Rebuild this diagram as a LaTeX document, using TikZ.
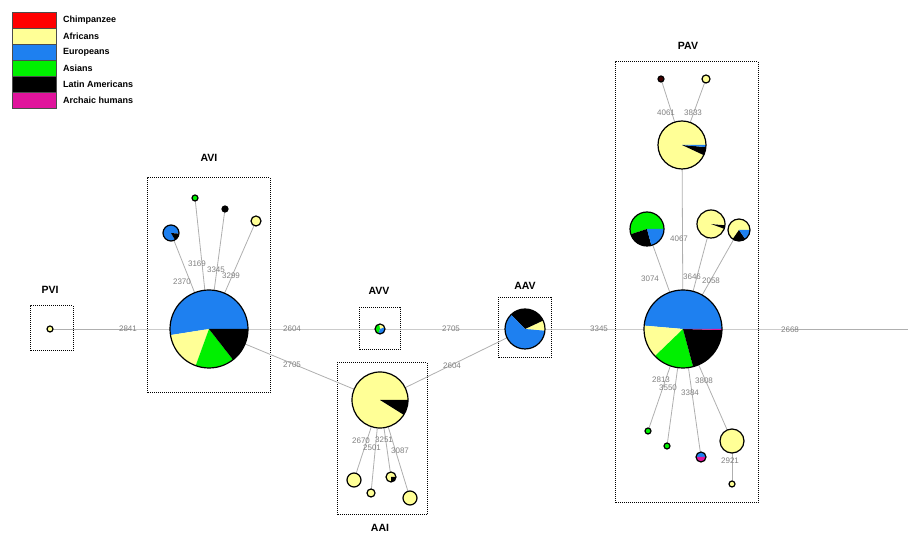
\documentclass[tikz,border=0pt]{standalone}
\usepackage{fontspec}
\setmainfont{Liberation Sans}
\usepackage{tikz}

\definecolor{chimp}{RGB}{255,0,0}
\definecolor{afr}{RGB}{255,255,150}
\definecolor{eur}{RGB}{30,128,240}
\definecolor{asi}{RGB}{0,240,0}
\definecolor{lat}{RGB}{0,0,0}
\definecolor{arc}{RGB}{224,20,156}
\definecolor{edgegray}{RGB}{175,175,175}

\newcommand{\pieslice}[5]{\fill[#5] (#1) -- ++(#3:#2) arc[start angle=#3, end angle=#4, radius=#2] -- cycle;}
\newcommand{\pierim}[2]{\draw[rim] (#1) circle[radius=#2];}
\newcommand{\pieball}[3]{\filldraw[rim, fill=#3] (#1) circle[radius=#2];}

\begin{document}
\begin{tikzpicture}[x=1pt,y=1pt,
    edge/.style={draw=edgegray, line width=0.8pt},
    rim/.style={draw=black, line width=1.2pt},
    count/.style={text=black!50, font=\fontsize{8}{9}\selectfont, inner sep=0pt},
    group/.style={draw, densely dotted, line width=1pt},
    grouplabel/.style={font=\bfseries\fontsize{10.5}{12}\selectfont},
    legendtext/.style={anchor=west, font=\bfseries\fontsize{9}{10}\selectfont, inner sep=0pt}]
\useasboundingbox (0,0) rectangle (908,538);

% legend
\foreach \col/\txt [count=\i] in {chimp/Chimpanzee, afr/Africans, eur/Europeans, asi/Asians, lat/Latin Americans, arc/Archaic humans} {
    \filldraw[fill=\col, draw=black!70, line width=0.5pt] (12,542-16*\i) rectangle (56,526-16*\i);
    \node[legendtext] at (63,534-16*\i) {\txt};
}

% groups
\draw[group] (30,187) rectangle (73,232);
\node[grouplabel] at (50,248) {PVI};
\draw[group] (147,145) rectangle (270,360);
\node[grouplabel] at (209,380) {AVI};
\draw[group] (359,188) rectangle (400,230);
\node[grouplabel] at (379,247) {AVV};
\draw[group] (498,180) rectangle (551,240);
\node[grouplabel] at (525,252) {AAV};
\draw[group] (337,23) rectangle (427,175);
\node[grouplabel] at (380,10) {AAI};
\draw[group] (615,35) rectangle (758,476);
\node[grouplabel] at (688,492) {PAV};

% haplotype centres
\coordinate (pvi) at (50,209);
\coordinate (avi) at (209,209);
\coordinate (avv) at (380,209);
\coordinate (aav) at (525,209);
\coordinate (aai) at (380,138);
\coordinate (pav) at (683,209);
\coordinate (tail) at (908,209);
\coordinate (avi1) at (171,305);
\coordinate (avi2) at (195,340);
\coordinate (avi3) at (225,329);
\coordinate (avi4) at (256,317);
\coordinate (aai1) at (354,58);
\coordinate (aai2) at (371,45);
\coordinate (aai3) at (391,61);
\coordinate (aai4) at (410,40);
\coordinate (pav1) at (682,393);
\coordinate (pav1a) at (661,459);
\coordinate (pav1b) at (706,459);
\coordinate (pav2) at (647,309);
\coordinate (pav3) at (711,314);
\coordinate (pav4) at (739,308);
\coordinate (pav5) at (648,107);
\coordinate (pav6) at (667,92);
\coordinate (pav7) at (701,81);
\coordinate (pav8) at (732,97);
\coordinate (pav8a) at (732,54);

% links
\draw[edge] (pvi) -- (avi) -- (avv) -- (aav) -- (pav) -- (tail);
\draw[edge] (avi) -- (aai) -- (aav);
\foreach \s in {avi1,avi2,avi3,avi4} \draw[edge] (avi) -- (\s);
\foreach \s in {aai1,aai2,aai3,aai4} \draw[edge] (aai) -- (\s);
\foreach \s in {pav1,pav2,pav3,pav4,pav5,pav6,pav7,pav8} \draw[edge] (pav) -- (\s);
\draw[edge] (pav1a) -- (pav1) -- (pav1b);
\draw[edge] (pav8) -- (pav8a);

% mutation positions
\node[count] at (128,209) {2841};
\node[count] at (292,209) {2604};
\node[count] at (451,209) {2705};
\node[count] at (599,209) {3345};
\node[count] at (790,208) {2668};
\node[count] at (292,173) {2705};
\node[count] at (452,172) {2604};
\node[count] at (182,256) {2370};
\node[count] at (197,274) {3169};
\node[count] at (216,268) {3345};
\node[count] at (231,262) {3299};
\node[count] at (361,97) {2670};
\node[count] at (372,90) {2501};
\node[count] at (384,98) {3251};
\node[count] at (400,87) {3087};
\node[count] at (679,299) {4067};
\node[count] at (666,425) {4061};
\node[count] at (693,425) {3833};
\node[count] at (650,259) {3074};
\node[count] at (692,261) {3646};
\node[count] at (711,257) {2058};
\node[count] at (661,158) {2813};
\node[count] at (668,150) {3550};
\node[count] at (690,145) {3384};
\node[count] at (704,157) {3808};
\node[count] at (730,77) {2921};

% pies
\pieball{pvi}{3pt}{afr}

\pieslice{avi}{39pt}{0}{189}{eur}
\pieslice{avi}{39pt}{189}{250}{afr}
\pieslice{avi}{39pt}{250}{308}{asi}
\pieslice{avi}{39pt}{308}{360}{lat}
\pierim{avi}{39pt}
\pieslice{avi1}{8pt}{-5}{300}{eur}
\pieslice{avi1}{8pt}{300}{355}{lat}
\pierim{avi1}{8pt}
\pieball{avi2}{3pt}{asi}
\pieball{avi3}{3pt}{lat}
\pieball{avi4}{5pt}{afr}

\pieslice{avv}{5pt}{20}{100}{afr}
\pieslice{avv}{5pt}{100}{250}{asi}
\pieslice{avv}{5pt}{250}{380}{eur}
\pierim{avv}{5pt}

\pieslice{aav}{20pt}{-5}{25}{afr}
\pieslice{aav}{20pt}{25}{134}{lat}
\pieslice{aav}{20pt}{134}{355}{eur}
\pierim{aav}{20pt}

\pieslice{aai}{28pt}{0}{328}{afr}
\pieslice{aai}{28pt}{328}{360}{lat}
\pierim{aai}{28pt}
\pieball{aai1}{7pt}{afr}
\pieball{aai2}{4pt}{afr}
\pieslice{aai3}{5pt}{0}{270}{afr}
\pieslice{aai3}{5pt}{270}{360}{lat}
\pierim{aai3}{5pt}
\pieball{aai4}{7pt}{afr}

\pieslice{pav}{39pt}{0}{175}{eur}
\pieslice{pav}{39pt}{175}{224}{afr}
\pieslice{pav}{39pt}{224}{285}{asi}
\pieslice{pav}{39pt}{285}{358.5}{lat}
\pieslice{pav}{39pt}{358.5}{360}{arc}
\pierim{pav}{39pt}

\pieslice{pav1}{24pt}{0}{335}{afr}
\pieslice{pav1}{24pt}{335}{355}{lat}
\pieslice{pav1}{24pt}{355}{360}{eur}
\pierim{pav1}{24pt}
\pieball{pav1a}{3pt}{black!75!red}
\pieball{pav1b}{4pt}{afr}

\pieslice{pav2}{17pt}{0}{198}{asi}
\pieslice{pav2}{17pt}{198}{285}{lat}
\pieslice{pav2}{17pt}{285}{360}{eur}
\pierim{pav2}{17pt}

\pieslice{pav3}{14pt}{0}{340}{afr}
\pieslice{pav3}{14pt}{340}{356}{lat}
\pieslice{pav3}{14pt}{356}{360}{afr}
\pierim{pav3}{14pt}

\pieslice{pav4}{11pt}{0}{235}{afr}
\pieslice{pav4}{11pt}{235}{305}{lat}
\pieslice{pav4}{11pt}{305}{360}{eur}
\pierim{pav4}{11pt}

\pieball{pav5}{3pt}{asi}
\pieball{pav6}{3pt}{asi}
\pieslice{pav7}{5pt}{0}{180}{eur}
\pieslice{pav7}{5pt}{180}{360}{arc}
\pierim{pav7}{5pt}
\pieball{pav8}{12pt}{afr}
\pieball{pav8a}{3pt}{afr}
\end{tikzpicture}
\end{document}
